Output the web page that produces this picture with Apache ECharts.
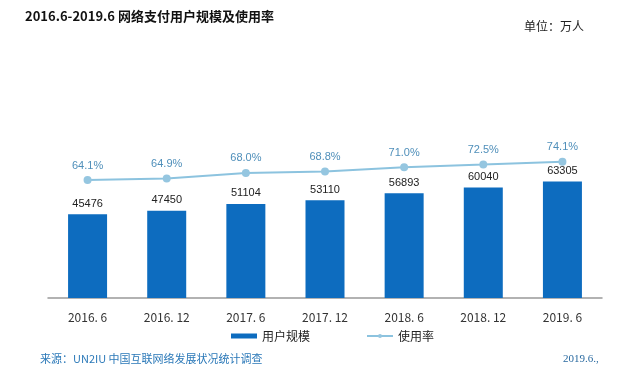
<!DOCTYPE html>
<html><head><meta charset="utf-8">
<script src="https://cdn.jsdelivr.net/npm/echarts@6/dist/echarts.min.js"></script>
<style>html,body{margin:0;padding:0;background:#fff}#c{width:630px;height:383px}</style>
</head><body><div id="c"></div>
<script>
var categories = ['2016. 6','2016. 12','2017. 6','2017. 12','2018. 6','2018. 12','2019. 6'];
var users = [45476, 47450, 51104, 53110, 56893, 60040, 63305];
var rates = [64.1, 64.9, 68.0, 68.8, 71.0, 72.5, 74.1];
var FONT = '"Noto Sans CJK SC", "Noto Sans", sans-serif';
var chart = echarts.init(document.getElementById('c'), null, {renderer:'canvas'});
chart.setOption({
  backgroundColor:'#fff',
  animation:false,
  textStyle:{fontFamily:FONT},
  graphic:[
    {type:'text', left:25, top:10, style:{text:'2016.6-2019.6 网络支付用户规模及使用率', font:'bold 13px '+FONT, fill:'#111'}},
    {type:'text', left:524, top:20, style:{text:'单位：万人', font:'12px '+FONT, fill:'#222'}},
    {type:'text', left:40, top:353, style:{text:'来源：UN2IU 中国互联网络发展状况统计调查', font:'11px '+FONT, fill:'#2a78b8'}},
    {type:'text', left:563, top:354, style:{text:'2019.6.,', font:'11px "Liberation Serif", serif', fill:'#2a6aa0'}}
  ],
  legend:{
    left:226, top:325, itemGap:56, itemWidth:26, itemHeight:5,
    textStyle:{fontSize:12, color:'#222', fontFamily:FONT},
    data:[{name:'用户规模', icon:'rect'},{name:'使用率'}]
  },
  grid:{left:48, right:28, top:114, bottom:85, containLabel:false},
  xAxis:{
    type:'category', data:categories,
    axisLine:{lineStyle:{color:'#999', width:1.5}},
    axisTick:{show:false},
    axisLabel:{color:'#333', fontSize:12, margin:13, fontFamily:FONT}
  },
  yAxis:[
    {type:'value', min:0, max:100000, show:false, splitLine:{show:false}},
    {type:'value', min:0, max:100, show:false, splitLine:{show:false}}
  ],
  series:[
    {name:'用户规模', type:'bar', data:users, barWidth:39, yAxisIndex:0,
     itemStyle:{color:'#0d6cbf'},
     label:{show:true, position:'top', distance:5, color:'#222', fontSize:11, fontFamily:'"Liberation Sans", Arial, sans-serif'}},
    {name:'使用率', type:'line', data:rates, yAxisIndex:1,
     symbol:'circle', symbolSize:8,
     lineStyle:{color:'#8cc3df', width:2},
     itemStyle:{color:'#95c6e0'},
     label:{show:true, position:'top', distance:5, color:'#4f8fba', fontSize:11,
            fontFamily:'"Liberation Sans", Arial, sans-serif',
            formatter:function(p){return p.value.toFixed(1)+'%';}}}
  ]
});
</script></body></html>
